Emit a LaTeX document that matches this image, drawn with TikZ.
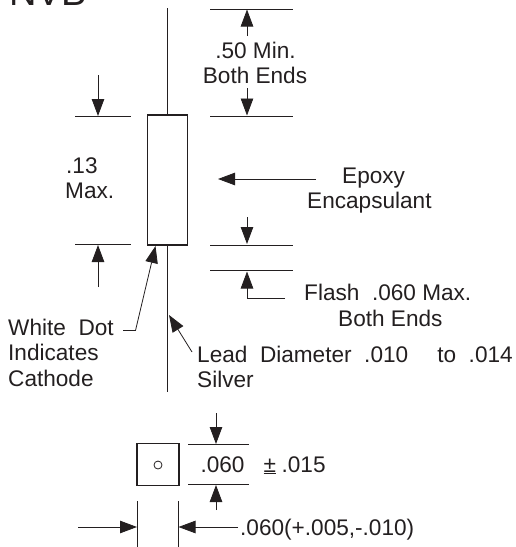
\documentclass[tikz,border=0pt]{standalone}
\usepackage{fontspec}
\setmainfont{Liberation Sans}
\usetikzlibrary{arrows.meta}
\definecolor{ink}{HTML}{231F20}
\tikzset{
	lbl/.style={anchor=base west,inner sep=0pt,text=ink,font=\fontsize{22.6}{25}\selectfont},
	ctr/.style={anchor=base,inner sep=0pt,text=ink,font=\fontsize{22.6}{25}\selectfont},
	dim/.style={draw=ink,line width=0.8pt},
	arr/.style={draw=ink,line width=0.8pt,-{Triangle[length=17pt,width=12.5pt]}},
	body/.style={draw=ink,line width=1.4pt,inner sep=0pt,minimum width=40pt,minimum height=130pt},
	chip/.style={draw=ink,line width=1.2pt,inner sep=0pt,minimum size=42pt}
}
\begin{document}
\begin{tikzpicture}[x=1pt,y=-1pt]
	
	\clip (0,0) rectangle (515,547);
	
	\node[anchor=base west,inner sep=0pt,text=ink,font=\fontsize{38}{38}\selectfont] (title) at (9,5) {NVB};
	
	\node[body] (case) at (167.5,180) {};
	\coordinate (leadtop) at (167,8);
	\coordinate (leadend) at (167,392);
	\draw[ink,line width=1pt] (leadtop) -- (case.north -| leadtop);
	\draw[ink,line width=1pt] (case.south -| leadend) -- (leadend);
	
	\draw[dim] (75,116) -- (131,116);
	\draw[dim] (75,244) -- (131,244);
	\draw[arr] (98,75) -- (98,116);
	\draw[arr] (98,287) -- (98,245);
	\node[lbl] (height) at (66,173) {.13};
	\node[lbl] (heightb) at (65,198) {Max.};
	
	\draw[dim] (210,9) -- (293,9);
	\draw[dim] (210,116) -- (293,116);
	\draw[dim] (210,245) -- (293,245);
	\draw[dim] (210,270) -- (293,270);
	\draw[arr] (247,36) -- (247,9.5);
	\draw[arr] (247,88) -- (247,115.5);
	\node[ctr] (minlen) at (255.5,58) {.50 Min.};
	\node[ctr] (minlenb) at (255,83) {Both Ends};
	
	\node[lbl] (epoxy) at (342,183) {Epoxy};
	\node[lbl] (encap) at (307,208) {Encapsulant};
	\coordinate (epoxytail) at (316,179);
	\coordinate (epoxytip) at (218,179);
	\draw[arr] (epoxytail) -- (epoxytip);
	
	\draw[arr] (247,217) -- (247,244);
	\coordinate (flashend) at (285,298);
	\draw[arr] (flashend) -- (247,298) -- (247,271.5);
	\node[lbl] (flash) at (304,300) {Flash\ \ .060 Max.};
	\node[lbl] (flashb) at (338,326) {Both Ends};
	
	\node[lbl] (white) at (8,335) {White\ \ Dot};
	\node[lbl] (indic) at (8,360) {Indicates};
	\node[lbl] (cath) at (8,386) {Cathode};
	\coordinate (dottail) at (123,330.5);
	\coordinate (dotbend) at (135.5,330.5);
	\coordinate (dottip) at (155.5,246);
	\draw[arr] (dottail) -- (dotbend) -- (dottip);
	
	\node[lbl] (leaddia) at (197,362) {Lead\ \ Diameter\ \ .010\ \ \ \ \hspace{4pt}to\ \ .014};
	\node[lbl] (silver) at (197,387) {Silver};
	\coordinate (leadtail) at (192,352);
	\coordinate (leadtip) at (169,315);
	\draw[arr] (leadtail) -- (leadtip);
	
	\node[chip] (sq) at (158,464.5) {};
	\node[shape=circle,draw=ink,line width=0.8pt,inner sep=0pt,minimum size=8pt] (dot) at (158,465) {};
	
	\draw[dim] (188,444) -- (249,444);
	\draw[dim] (188,484.5) -- (249,484.5);
	\draw[arr] (216,413) -- (216,444);
	\draw[arr] (216,510) -- (216,485);
	\node[ctr] (side) at (222.5,472) {.060};
	\node[lbl] (tol) at (263.5,472) {\underline{±}\hspace{5.5pt}.015};
	
	\draw[dim] (137.5,501) -- (137.5,547);
	\draw[dim] (178,501) -- (178,547);
	\draw[arr] (78,527) -- (137,527);
	\draw[arr] (238,527) -- (178.5,527);
	\node[lbl] (wide) at (240,535) {.060(+.005,-.010)};
	
\end{tikzpicture}
\end{document}
